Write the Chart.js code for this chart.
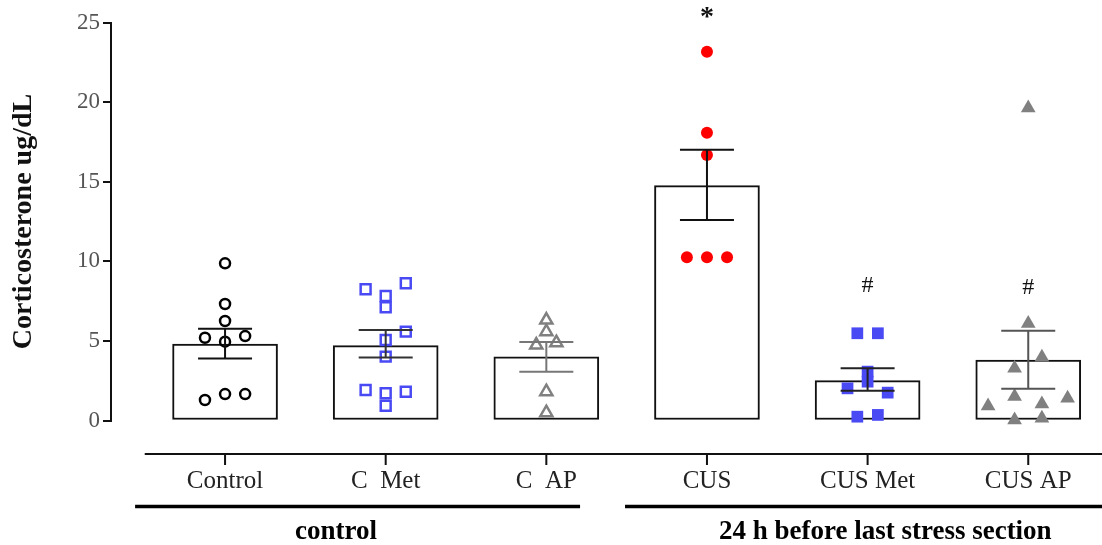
<!DOCTYPE html>
<html lang="en">
<head>
  <meta charset="UTF-8" />
  <title>Corticosterone</title>
  <script src="https://cdn.jsdelivr.net/npm/chart.js"></script>
  <style>
    body { margin: 0; background: #fff; }
  </style>
</head>
<body>
  <canvas id="chart" width="1102" height="545"></canvas>

  <script>
    // Columns and the two groups under them
    const categories = ['Control', 'C  Met', 'C  AP', 'CUS', 'CUS Met', 'CUS AP'];
    const groupNames = ['control', '24 h before last stress section'];

    // Mean and mean +/- SEM for every column
    const means = [4.8, 4.7, 4.0, 14.75, 2.5, 3.8];
    const semHigh = [5.77, 5.68, 4.93, 17.0, 3.28, 5.64];
    const semLow = [3.9, 3.95, 3.07, 12.6, 1.87, 2.0];
    const sigMarks = ['', '', '', '*', '#', '#'];

    // Single animals: value and side shift inside the column
    const controlVals = [9.87, 7.32, 6.25, 5.2, 5.3, 4.95, 1.29, 1.66, 1.66];
    const controlJit = [0, 0, 0, -0.125, 0.125, 0, -0.125, 0, 0.125];
    const cMetVals = [8.24, 8.62, 7.82, 7.11, 5.58, 5.06, 4.01, 1.92, 1.81, 1.71, 0.93];
    const cMetJit = [-0.125, 0.125, 0, 0, 0.125, 0, 0, -0.125, 0.125, 0, 0];
    const cApVals = [6.31, 5.58, 4.74, 4.89, 1.81, 0.49];
    const cApJit = [0, 0, -0.0625, 0.0625, 0, 0];
    const cusVals = [23.17, 18.08, 16.68, 10.25, 10.25, 10.25];
    const cusJit = [0, 0, 0, -0.125, 0, 0.125];
    const cusMetVals = [5.48, 5.48, 3.07, 2.44, 2.02, 1.75, 0.24, 0.35];
    const cusMetJit = [-0.064, 0.064, 0, 0, -0.125, 0.125, -0.064, 0.064];
    const cusApVals = [19.63, 6.1, 3.97, 3.28, 1.5, 0.91, 1.04, 1.39, 0.03, 0.14];
    const cusApJit = [0, 0, 0.085, -0.085, -0.085, -0.25, 0.085, 0.245, -0.085, 0.085];

    const serif = "'Liberation Serif', 'Times New Roman', serif";

    function pts(col, vals, jit) {
      return vals.map((v, i) => ({ x: col + jit[i], y: v }));
    }

    // error bars, significance marks, offset x axis and group bars
    const decor = {
      id: 'decor',
      afterDatasetsDraw(chart) {
        const { ctx, scales: { x, y } } = chart;
        const errColors = ['#111', '#333', '#777', '#111', '#222', '#555'];
        ctx.save();
        ctx.lineWidth = 2;
        means.forEach((m, i) => {
          const px = x.getPixelForValue(i);
          const top = y.getPixelForValue(semHigh[i]);
          const bot = y.getPixelForValue(semLow[i]);
          ctx.strokeStyle = errColors[i];
          ctx.beginPath();
          ctx.moveTo(px, top); ctx.lineTo(px, bot);
          ctx.moveTo(px - 27, top); ctx.lineTo(px + 27, top);
          ctx.moveTo(px - 27, bot); ctx.lineTo(px + 27, bot);
          ctx.stroke();
        });
        // significance marks
        const markLevel = [0, 0, 0, 25.4, 8.5, 8.4];
        ctx.fillStyle = '#111';
        ctx.textAlign = 'center';
        ctx.textBaseline = 'middle';
        sigMarks.forEach((s, i) => {
          if (!s) return;
          ctx.font = (s === '*' ? 'bold 28px ' : '24px ') + serif;
          const dy = s === '*' ? 2 : 1;
          ctx.fillText(s, x.getPixelForValue(i), y.getPixelForValue(markLevel[i]) + dy);
        });
        ctx.restore();
      },
      afterDraw(chart) {
        const { ctx, chartArea, scales: { x } } = chart;
        const axisY = chartArea.bottom + 33.5;
        ctx.save();
        ctx.strokeStyle = '#111';
        ctx.lineWidth = 2;
        ctx.beginPath();
        ctx.moveTo(x.getPixelForValue(-0.5), axisY);
        ctx.lineTo(chart.width, axisY);
        categories.forEach((c, i) => {
          const px = x.getPixelForValue(i);
          ctx.moveTo(px, axisY);
          ctx.lineTo(px, axisY + 11);
        });
        ctx.stroke();

        // group bars and their names
        const groupFrom = [-0.56, 2.49];
        const groupTo = [2.21, 5.6];
        const groupMid = [0.69, 4.11];
        ctx.lineWidth = 3.5;
        ctx.strokeStyle = '#000';
        ctx.fillStyle = '#000';
        ctx.font = 'bold 27px ' + serif;
        ctx.textAlign = 'center';
        ctx.textBaseline = 'middle';
        groupNames.forEach((g, i) => {
          ctx.beginPath();
          ctx.moveTo(x.getPixelForValue(groupFrom[i]), axisY + 52.5);
          ctx.lineTo(Math.min(x.getPixelForValue(groupTo[i]), chart.width), axisY + 52.5);
          ctx.stroke();
          ctx.fillText(g, x.getPixelForValue(groupMid[i]), axisY + 78);
        });
        ctx.restore();
      }
    };

    new Chart(document.getElementById('chart'), {
      type: 'bar',
      data: {
        datasets: [
          {
            type: 'bar',
            data: means.map((m, i) => ({ x: i, y: m })),
            backgroundColor: '#fff',
            borderColor: '#111',
            borderWidth: 2,
            borderSkipped: false,
            barThickness: 105,
            order: 10
          },
          {
            type: 'scatter', clip: false, order: 1,
            data: pts(0, controlVals, controlJit),
            pointStyle: 'circle', pointRadius: 5, pointBorderWidth: 2.5,
            pointBackgroundColor: 'rgba(0,0,0,0)', pointBorderColor: '#000'
          },
          {
            type: 'scatter', clip: false, order: 1,
            data: pts(1, cMetVals, cMetJit),
            pointStyle: 'rect', pointRadius: 7, pointBorderWidth: 2.5,
            pointBackgroundColor: 'rgba(0,0,0,0)', pointBorderColor: '#4a4af5'
          },
          {
            type: 'scatter', clip: false, order: 1,
            data: pts(2, cApVals, cApJit),
            pointStyle: 'triangle', pointRadius: 7, pointBorderWidth: 2.5,
            pointBackgroundColor: 'rgba(0,0,0,0)', pointBorderColor: '#808080'
          },
          {
            type: 'scatter', clip: false, order: 1,
            data: pts(3, cusVals, cusJit),
            pointStyle: 'circle', pointRadius: 6, pointBorderWidth: 0,
            pointBackgroundColor: '#ff0000'
          },
          {
            type: 'scatter', clip: false, order: 1,
            data: pts(4, cusMetVals, cusMetJit),
            pointStyle: 'rect', pointRadius: 8.3, pointBorderWidth: 0,
            pointBackgroundColor: '#4a4af5'
          },
          {
            type: 'scatter', clip: false, order: 1,
            data: pts(5, cusApVals, cusApJit),
            pointStyle: 'triangle', pointRadius: 8.5, pointBorderWidth: 0,
            pointBackgroundColor: '#808080'
          }
        ]
      },
      options: {
        responsive: false,
        animation: false,
        devicePixelRatio: 1,
        layout: { padding: { top: 22.5, right: 2, bottom: 0, left: 0 } },
        plugins: { legend: { display: false }, tooltip: { enabled: false } },
        scales: {
          x: {
            type: 'linear',
            offset: false,
            min: -0.71,
            max: 5.40,
            grid: { display: false, drawTicks: false },
            border: { display: false },
            afterBuildTicks: s => { s.ticks = categories.map((c, i) => ({ value: i })); },
            afterFit: s => { s.height = 124.5; s.paddingLeft = 0; s.paddingRight = 0; },
            ticks: {
              callback: v => categories[v],
              autoSkip: false,
              maxRotation: 0,
              padding: 46,
              color: '#222',
              font: { family: serif, size: 25 }
            }
          },
          y: {
            min: 0,
            max: 25,
            grid: { drawOnChartArea: false, drawTicks: true, tickLength: 8, color: '#111', lineWidth: 2 },
            border: { display: true, color: '#111', width: 2 },
            afterFit: s => { s.width = 111; },
            ticks: {
              stepSize: 5,
              padding: 3,
              color: '#555',
              font: { family: serif, size: 23 }
            },
            title: {
              display: true,
              text: 'Corticosterone ug/dL',
              color: '#111',
              padding: { top: 7, bottom: 0 },
              font: { family: serif, size: 28, weight: 'bold' }
            }
          }
        }
      },
      plugins: [decor]
    });
  </script>
</body>
</html>
